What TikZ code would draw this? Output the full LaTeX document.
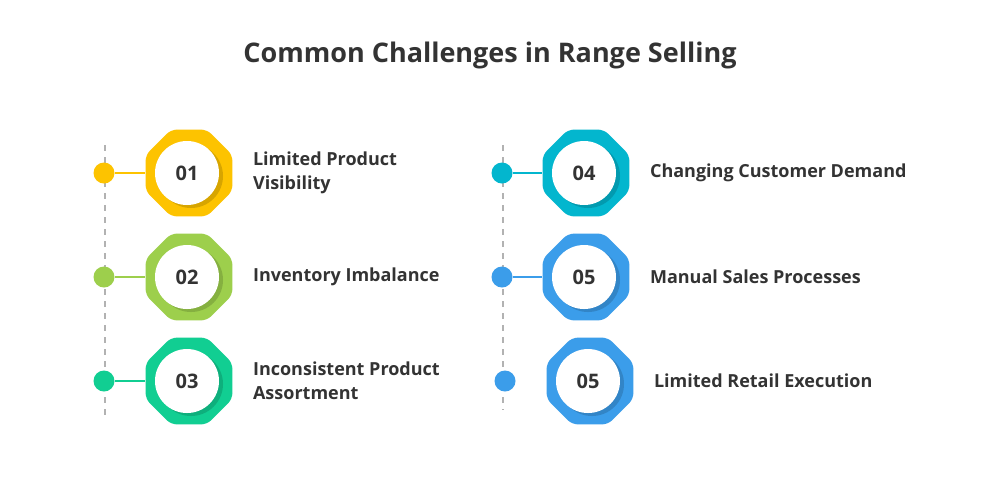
\documentclass[tikz,border=0pt]{standalone}
\usepackage{fontspec}
\setmainfont{Open Sans}
\usetikzlibrary{shapes.geometric}
\definecolor{cYel}{HTML}{FDC300}
\definecolor{cGrn}{HTML}{9DCF4C}
\definecolor{cTeal}{HTML}{11CE92}
\definecolor{cCyan}{HTML}{03B6CE}
\definecolor{cBlue}{HTML}{3B9DEA}
\definecolor{cText}{HTML}{333333}
\tikzset{
  octa/.style={regular polygon, regular polygon sides=8, minimum size=47pt, rounded corners=3pt, fill=#1, draw=none},
  disc/.style={circle, fill=white, minimum size=32pt, inner sep=0pt, text=cText, font=\bfseries\fontsize{10}{11}\selectfont},
  shade/.style={circle, fill=black, opacity=0.15, minimum size=32pt},
  dot/.style={circle, fill=#1, minimum size=10.5pt, inner sep=0pt},
  label/.style={anchor=west, align=left, text=cText, font=\bfseries\fontsize{9}{12}\selectfont},
  guide/.style={gray!60, dashed, line width=0.8pt}
}
\begin{document}
\begin{tikzpicture}[x=0.5pt,y=-0.5pt]
        \useasboundingbox[fill=white] (0,0) rectangle (1000,500);
        \node[text=cText, font=\bfseries\fontsize{13.5}{15}\selectfont] (title) at (490,55) {Common Challenges in Range Selling};

        \draw[guide] (105,145) -- (105,415);
        \draw[guide] (503,145) -- (503,410);

        % left column
        \foreach \n/\y/\c/\t in {1/173/cYel/{Limited Product\\Visibility}, 2/277/cGrn/{Inventory Imbalance}, 3/381/cTeal/{Inconsistent Product\\Assortment}} {
            \node[octa=\c] (oct\n) at (189,\y) {};
            \node[shade] at (191,\y+3) {};
            \node[disc] (num\n) at (187,\y) {0\n};
            \node[dot=\c] (dot\n) at (104,\y) {};
            \draw[\c, line width=1pt] (dot\n) -- (oct\n);
            \node[label] (lab\n) at (246,\y) {\t};
        }

        % right column
        \foreach \n/\m/\y/\c/\t in {4/04/173/cCyan/{Changing Customer Demand}, 5/05/277/cBlue/{Manual Sales Processes}} {
            \node[octa=\c] (oct\n) at (586,\y) {};
            \node[shade] at (588,\y+3) {};
            \node[disc] (num\n) at (584,\y) {\m};
            \node[dot=\c] (dot\n) at (502,\y) {};
            \draw[\c, line width=1pt] (dot\n) -- (oct\n);
            \node[label] (lab\n) at (643,\y) {\t};
        }
        \node[octa=cBlue] (oct6) at (590,381) {};
        \node[shade] at (592,384) {};
        \node[disc] (num6) at (588,381) {05};
        \node[dot=cBlue] (dot6) at (505,381) {};
        \node[label] (lab6) at (647,381) {Limited Retail Execution};
\end{tikzpicture}
\end{document}
